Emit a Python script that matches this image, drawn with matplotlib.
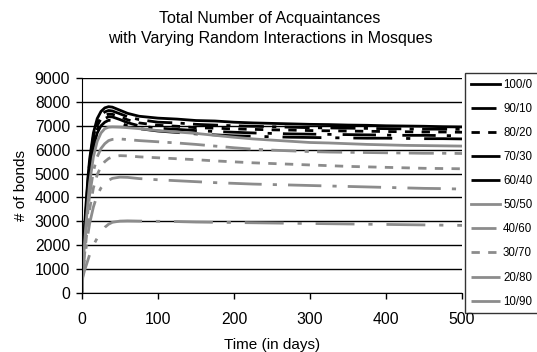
import numpy as np
import matplotlib
matplotlib.use("Agg")
from matplotlib import pyplot as plt

plt.rcParams['font.family'] = ['Liberation Sans', 'DejaVu Sans']

days = [0, 1, 3, 5, 8, 10, 15, 20, 25, 30, 35, 40, 50, 60, 75, 100, 125, 150, 175,
        200, 225, 250, 275, 300, 325, 350, 375, 400, 425, 450, 475, 500]

labels = ["100/0", "90/10", "80/20", "70/30", "60/40",
          "50/50", "40/60", "30/70", "20/80", "10/90"]

bonds_100_0 = [0, 1100, 2600, 3600, 4900, 5600, 6700, 7300, 7600, 7750, 7800, 7780, 7650, 7520, 7400,
               7320, 7280, 7220, 7200, 7150, 7120, 7100, 7080, 7060, 7050, 7030, 7020, 7000, 6990, 6980, 6960, 6950]
bonds_90_10 = [0, 1050, 2450, 3450, 4750, 5450, 6550, 7150, 7450, 7580, 7640, 7620, 7500, 7380, 7260,
               7150, 7120, 7060, 7030, 7000, 6980, 6960, 6940, 6920, 6910, 6900, 6890, 6880, 6870, 6860, 6860, 6850]
bonds_80_20 = [0, 1000, 2300, 3300, 4600, 5300, 6400, 7000, 7300, 7430, 7490, 7480, 7380, 7250, 7120,
               7020, 6980, 6920, 6900, 6870, 6850, 6830, 6820, 6800, 6790, 6780, 6770, 6760, 6750, 6740, 6740, 6730]
bonds_70_30 = [0, 1000, 2200, 3200, 4450, 5150, 6250, 6850, 7150, 7300, 7380, 7370, 7260, 7130, 7000,
               6900, 6850, 6800, 6760, 6730, 6700, 6680, 6660, 6650, 6640, 6630, 6620, 6610, 6600, 6600, 6590, 6580]
bonds_60_40 = [0, 950, 2100, 3050, 4300, 5000, 6100, 6700, 7000, 7150, 7230, 7220, 7120, 7000, 6880,
               6780, 6720, 6660, 6620, 6580, 6560, 6540, 6520, 6510, 6500, 6490, 6480, 6480, 6470, 6460, 6460, 6450]
bonds_50_50 = [0, 900, 1900, 2800, 3900, 4600, 5700, 6350, 6700, 6880, 6940, 6950, 6940, 6920, 6880,
               6800, 6740, 6680, 6600, 6520, 6450, 6400, 6350, 6300, 6280, 6250, 6220, 6200, 6180, 6170, 6160, 6150]
bonds_40_60 = [0, 850, 1700, 2500, 3500, 4100, 5100, 5700, 6050, 6250, 6380, 6430, 6450, 6420, 6380,
               6330, 6280, 6220, 6150, 6080, 6020, 5980, 5950, 5920, 5900, 5890, 5880, 5870, 5860, 5850, 5850, 5840]
bonds_30_70 = [0, 800, 1500, 2100, 3000, 3500, 4400, 4950, 5300, 5500, 5630, 5700, 5750, 5740, 5700,
               5660, 5620, 5580, 5530, 5490, 5450, 5420, 5390, 5360, 5330, 5300, 5280, 5260, 5240, 5220, 5210, 5200]
bonds_20_80 = [0, 750, 1300, 1800, 2500, 2900, 3600, 4100, 4400, 4600, 4720, 4800, 4850, 4840, 4790,
               4740, 4700, 4660, 4620, 4590, 4560, 4540, 4520, 4500, 4480, 4460, 4440, 4420, 4400, 4380, 4370, 4350]
bonds_10_90 = [0, 650, 900, 1100, 1400, 1600, 2000, 2300, 2550, 2750, 2880, 2960, 3010, 3020, 3010,
               3000, 2990, 2970, 2960, 2950, 2940, 2930, 2920, 2910, 2900, 2890, 2880, 2870, 2860, 2850, 2840, 2830]

series = [bonds_100_0, bonds_90_10, bonds_80_20, bonds_70_30, bonds_60_40,
          bonds_50_50, bonds_40_60, bonds_30_70, bonds_20_80, bonds_10_90]

colors = ["black"] * 5 + ["#8c8c8c"] * 5
styles = ["-", (0, (9, 3, 1.5, 3)), (0, (3, 3)), (0, (12, 4, 1.5, 4)), (0, (14, 5, 1.5, 5)),
          "-", (0, (9, 3, 1.5, 3)), (0, (3, 3)), (0, (12, 4, 1.5, 4)), (0, (14, 5, 1.5, 5))]

fig = plt.figure(figsize=(5.37, 3.52), dpi=100)
ax = fig.add_axes([82 / 537, 59 / 352, 380 / 537, 215 / 352])

for i in range(len(series)):
    ax.plot(days, series[i], color=colors[i], linestyle=styles[i], linewidth=2, label=labels[i])

ax.set_xlim(0, 500)
ax.set_ylim(0, 9000)
ax.set_xticks(range(0, 501, 100))
ax.set_yticks(range(0, 9001, 1000))
ax.yaxis.grid(True, color="black", linewidth=1)
ax.set_axisbelow(True)
for s in ["top", "right"]:
    ax.spines[s].set_visible(False)
ax.tick_params(labelsize=11.3, length=4, width=1, color="black")
ax.tick_params(axis="x", pad=9.5)
ax.tick_params(axis="y", pad=4.5)

ax.set_xlabel("Time (in days)", fontsize=11, labelpad=8)
ax.set_ylabel("# of bonds", fontsize=11, labelpad=5)
fig.suptitle("Total Number of Acquaintances\nwith Varying Random Interactions in Mosques",
             fontsize=11.5, x=0.503, y=0.968, linespacing=1.4)

leg = fig.legend(loc="upper left", bbox_to_anchor=(465 / 537, 1 - 73 / 352), fontsize=8.3,
                 frameon=True, fancybox=False, edgecolor="black", handlelength=2.5,
                 labelspacing=1.05, borderpad=0.5, handletextpad=0.3, borderaxespad=0)
leg.get_frame().set_linewidth(1)

fig.savefig("out.png", dpi=100)
